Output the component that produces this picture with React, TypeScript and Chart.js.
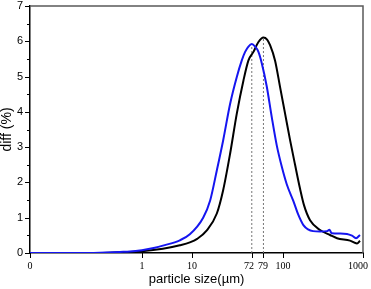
import React, { useEffect, useRef } from "react";
import { Chart, registerables } from "chart.js";

Chart.register(...registerables);

// x axis: instrument channel (0–100 across the axis), labelled in µm
const tickChannels = [0, 33.7, 48.6, 66.6, 70.1, 75.9, 100];
const tickLabels = ["0", "1", "10", "72", "79", "100", "1000"];

const blueChannels = [0, 15, 21, 27, 30, 33.6, 37.5, 39.9, 45, 48, 52, 54.1, 56.1, 58, 60.1, 62.1, 63.6, 64.6, 65.6, 66.6, 67.6, 68.6, 69.6, 71.1, 72.6, 74.1, 75.6, 77.1, 79.1, 80.5, 82.1, 83.5, 85, 87.1, 89.2, 89.9, 90.6, 93.1, 95.2, 96.7, 97.9, 99.1];
const blueValues = [0, 0, 0.01, 0.03, 0.04, 0.08, 0.15, 0.21, 0.36, 0.53, 1.0, 1.49, 2.34, 3.19, 4.23, 4.99, 5.46, 5.7, 5.85, 5.92, 5.85, 5.7, 5.38, 4.72, 3.85, 3.05, 2.45, 1.95, 1.47, 1.1, 0.79, 0.67, 0.62, 0.61, 0.62, 0.66, 0.56, 0.55, 0.54, 0.49, 0.42, 0.51];

const blackChannels = [0, 21, 27, 33.6, 39.9, 45, 48, 50.2, 53.1, 56.1, 58, 60.1, 62.1, 64.1, 65.6, 67.1, 68.6, 70.1, 71.2, 72.1, 73.6, 75.1, 76.6, 78.1, 79.6, 81.1, 82.3, 84.1, 87.1, 90.1, 92.2, 96.1, 98.2, 99.1];
const blackValues = [0, 0, 0.02, 0.05, 0.12, 0.22, 0.3, 0.4, 0.64, 1.12, 1.78, 2.82, 3.95, 4.89, 5.46, 5.7, 5.98, 6.11, 6.05, 5.89, 5.45, 4.7, 3.95, 3.2, 2.5, 1.82, 1.35, 0.93, 0.65, 0.51, 0.42, 0.35, 0.27, 0.35];

const peakChannels = [66.6, 70.1];
const peakValues = [5.92, 6.11];

const yMin = 0;
const yMax = 7;

const framePlugin = {
  id: "frame",
  afterDraw(chart: any) {
    const { ctx, chartArea, width } = chart;
    const { left, right, top, bottom } = chartArea;
    const xs = chart.scales.x;
    const ys = chart.scales.y;
    ctx.save();
    // top & right frame
    ctx.strokeStyle = "#5a5a5a";
    ctx.lineWidth = 1.5;
    ctx.beginPath();
    ctx.moveTo(left, top);
    ctx.lineTo(right, top);
    ctx.lineTo(right, bottom);
    ctx.stroke();
    // y ticks (major + minor)
    ctx.strokeStyle = "#000";
    ctx.lineWidth = 1;
    for (let i = 0; i <= (yMax - yMin) * 2; i++) {
      const v = yMin + i * 0.5;
      const py = Math.round(ys.getPixelForValue(v)) + 0.5;
      const len = i % 2 === 0 ? 5 : 3;
      ctx.beginPath();
      ctx.moveTo(left - len, py);
      ctx.lineTo(left, py);
      ctx.stroke();
    }
    // x ticks and labels
    ctx.fillStyle = "#000";
    ctx.font = "10px 'Liberation Serif', 'Times New Roman', serif";
    ctx.textAlign = "center";
    ctx.textBaseline = "top";
    const pxs = tickChannels.map((c) => Math.round(xs.getPixelForValue(c)) + 0.5);
    const widths = tickLabels.map((t) => ctx.measureText(t).width);
    const centers = pxs.map((p, i) => Math.min(p - 0.5, width - 3 - widths[i] / 2));
    // keep neighbouring labels apart by shifting the earlier one left
    for (let i = centers.length - 2; i >= 0; i--) {
      const gap = centers[i + 1] - widths[i + 1] / 2 - (centers[i] + widths[i] / 2);
      if (gap < 4) centers[i] -= 4 - gap;
    }
    pxs.forEach((px, i) => {
      ctx.beginPath();
      ctx.moveTo(px, bottom);
      ctx.lineTo(px, bottom + 5);
      ctx.stroke();
      ctx.fillText(tickLabels[i], centers[i], bottom + 8);
    });
    ctx.restore();
  },
};

export default function App() {
  const ref = useRef<HTMLCanvasElement | null>(null);
  useEffect(() => {
    document.body.style.margin = "0";
    const canvas = ref.current;
    if (!canvas) return;
    const pts = (xs: number[], ys: number[]) => xs.map((x, i) => ({ x, y: ys[i] }));
    const dashed = (i: number) => ({
      data: [
        { x: peakChannels[i], y: 0 },
        { x: peakChannels[i], y: peakValues[i] },
      ],
      borderColor: "#777",
      borderWidth: 1,
      borderDash: [2, 2],
      pointRadius: 0,
    });
    const chart = new Chart(canvas, {
      type: "line",
      data: {
        datasets: [
          {
            label: "blue",
            data: pts(blueChannels, blueValues),
            borderColor: "#1515f0",
            borderWidth: 2,
            pointRadius: 0,
            cubicInterpolationMode: "monotone",
          },
          {
            label: "black",
            data: pts(blackChannels, blackValues),
            borderColor: "#000",
            borderWidth: 2,
            pointRadius: 0,
            cubicInterpolationMode: "monotone",
          },
          dashed(0),
          dashed(1),
        ] as any,
      },
      options: {
        animation: false,
        responsive: false,
        maintainAspectRatio: false,
        devicePixelRatio: 1,
        layout: { padding: { left: 0, right: 8, top: 6, bottom: 0 } },
        plugins: { legend: { display: false }, tooltip: { enabled: false } },
        scales: {
          x: {
            type: "linear",
            min: 0,
            max: 100,
            grid: { display: false, drawTicks: false },
            border: { display: true, color: "#000", width: 1.5 },
            ticks: { display: false },
            title: {
              display: true,
              text: "particle size(µm)",
              color: "#000",
              font: { family: "'Liberation Sans', Arial, sans-serif", size: 13, lineHeight: 1.2 },
              padding: { top: 0, bottom: 2 },
            },
            afterFit(scale: any) {
              scale.height = 36;
              scale.paddingLeft = 0;
              scale.paddingRight = 0;
            },
          },
          y: {
            type: "linear",
            min: yMin,
            max: yMax,
            grid: { display: false, drawTicks: false },
            border: { display: true, color: "#000", width: 1.5 },
            ticks: {
              stepSize: 1,
              color: "#000",
              padding: 7,
              font: { family: "'Liberation Sans', Arial, sans-serif", size: 11 },
            },
            title: {
              display: true,
              text: "diff (%)",
              color: "#000",
              font: { family: "'Liberation Sans', Arial, sans-serif", size: 14, lineHeight: 1 },
              padding: { top: 0, bottom: 0 },
            },
            afterFit(scale: any) {
              scale.width = 30;
              scale.paddingTop = 0;
              scale.paddingBottom = 0;
            },
          },
        },
      },
      plugins: [framePlugin],
    });
    return () => chart.destroy();
  }, []);
  return <canvas ref={ref} width={371} height={289} style={{ display: "block", width: 371, height: 289 }} />;
}
